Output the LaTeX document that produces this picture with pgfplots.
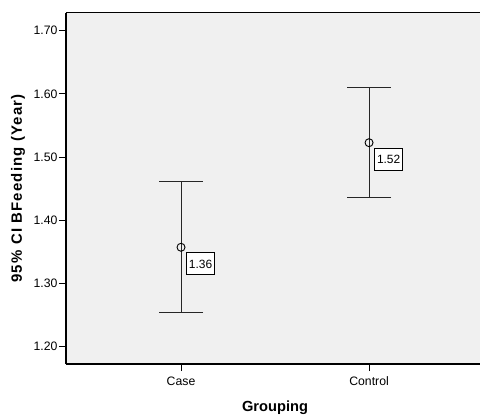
\documentclass[border=0pt]{standalone}
\usepackage{pgfplots}
\pgfplotsset{compat=1.18}
\usepackage{fontspec}
\setmainfont{Liberation Sans}
\usetikzlibrary{calc}
\definecolor{plotbg}{RGB}{240,240,240}
\begin{document}
\begin{tikzpicture}
\begin{axis}[
    scale only axis,
    width=414bp, height=351.3bp,
    xmin=-0.6117, xmax=1.59,
    ymin=1.1726, ymax=1.7285,
    axis x line=box, axis y line=left,
    axis line style={-, line width=1.2bp, black},
    axis background/.style={fill=plotbg},
    xtick={0,1}, xticklabels={Case,Control},
    xtick pos=left,
    ytick={1.2,1.3,1.4,1.5,1.6,1.7},
    yticklabel={\pgfmathprintnumber[fixed,fixed zerofill,precision=2]{\tick}},
    /pgf/number format/assume math mode=true,
    tick align=outside, major tick length=7bp,
    tick style={black, line width=1bp},
    tick label style={font=\fontsize{12.3}{14}\selectfont},
    xticklabel style={yshift=-2bp},
    yticklabel style={xshift=2bp},
    label style={font=\fontsize{14.7}{17}\selectfont\bfseries},
    xlabel={Grouping},
    ylabel={95\% CI BFeeding (Year)},
    xlabel style={at={(axis cs:0.5,1.1726)}, anchor=center, yshift=-44bp},
    ylabel style={at={(rel axis cs:0,0.5)}, anchor=center, yshift=48bp,
        font=\fontsize{15}{17}\selectfont\bfseries\addfontfeature{LetterSpace=8}},
]
\addplot[only marks, mark=o, mark size=4bp, black,
    mark options={line width=0.9bp},
    nodes near coords={\pgfmathprintnumber[fixed,fixed zerofill,precision=2,assume math mode=true]{\pgfplotspointmeta}},
    every node near coord/.append style={anchor=north west, xshift=5bp, yshift=-5bp,
        draw=black, fill=white, line width=0.9bp, font=\fontsize{12}{14}\selectfont,
        inner xsep=2.5bp, inner ysep=6.5bp, text height=9bp, text depth=0bp},
    error bars/.cd, y dir=both, y explicit,
    error bar style={line width=1bp, black!85},
    error mark options={rotate=90, mark size=22bp, line width=1bp, black!85}]
coordinates {
    (0,1.3573) +- (0,0.1033)
    (1,1.5228) +- (0,0.0866)
};
\end{axis}
\pgfresetboundingbox
\path ($(current axis.south west)+(-66bp,-55bp)$) rectangle ($(current axis.north east)+(0bp,12.7bp)$);
\end{tikzpicture}
\end{document}
